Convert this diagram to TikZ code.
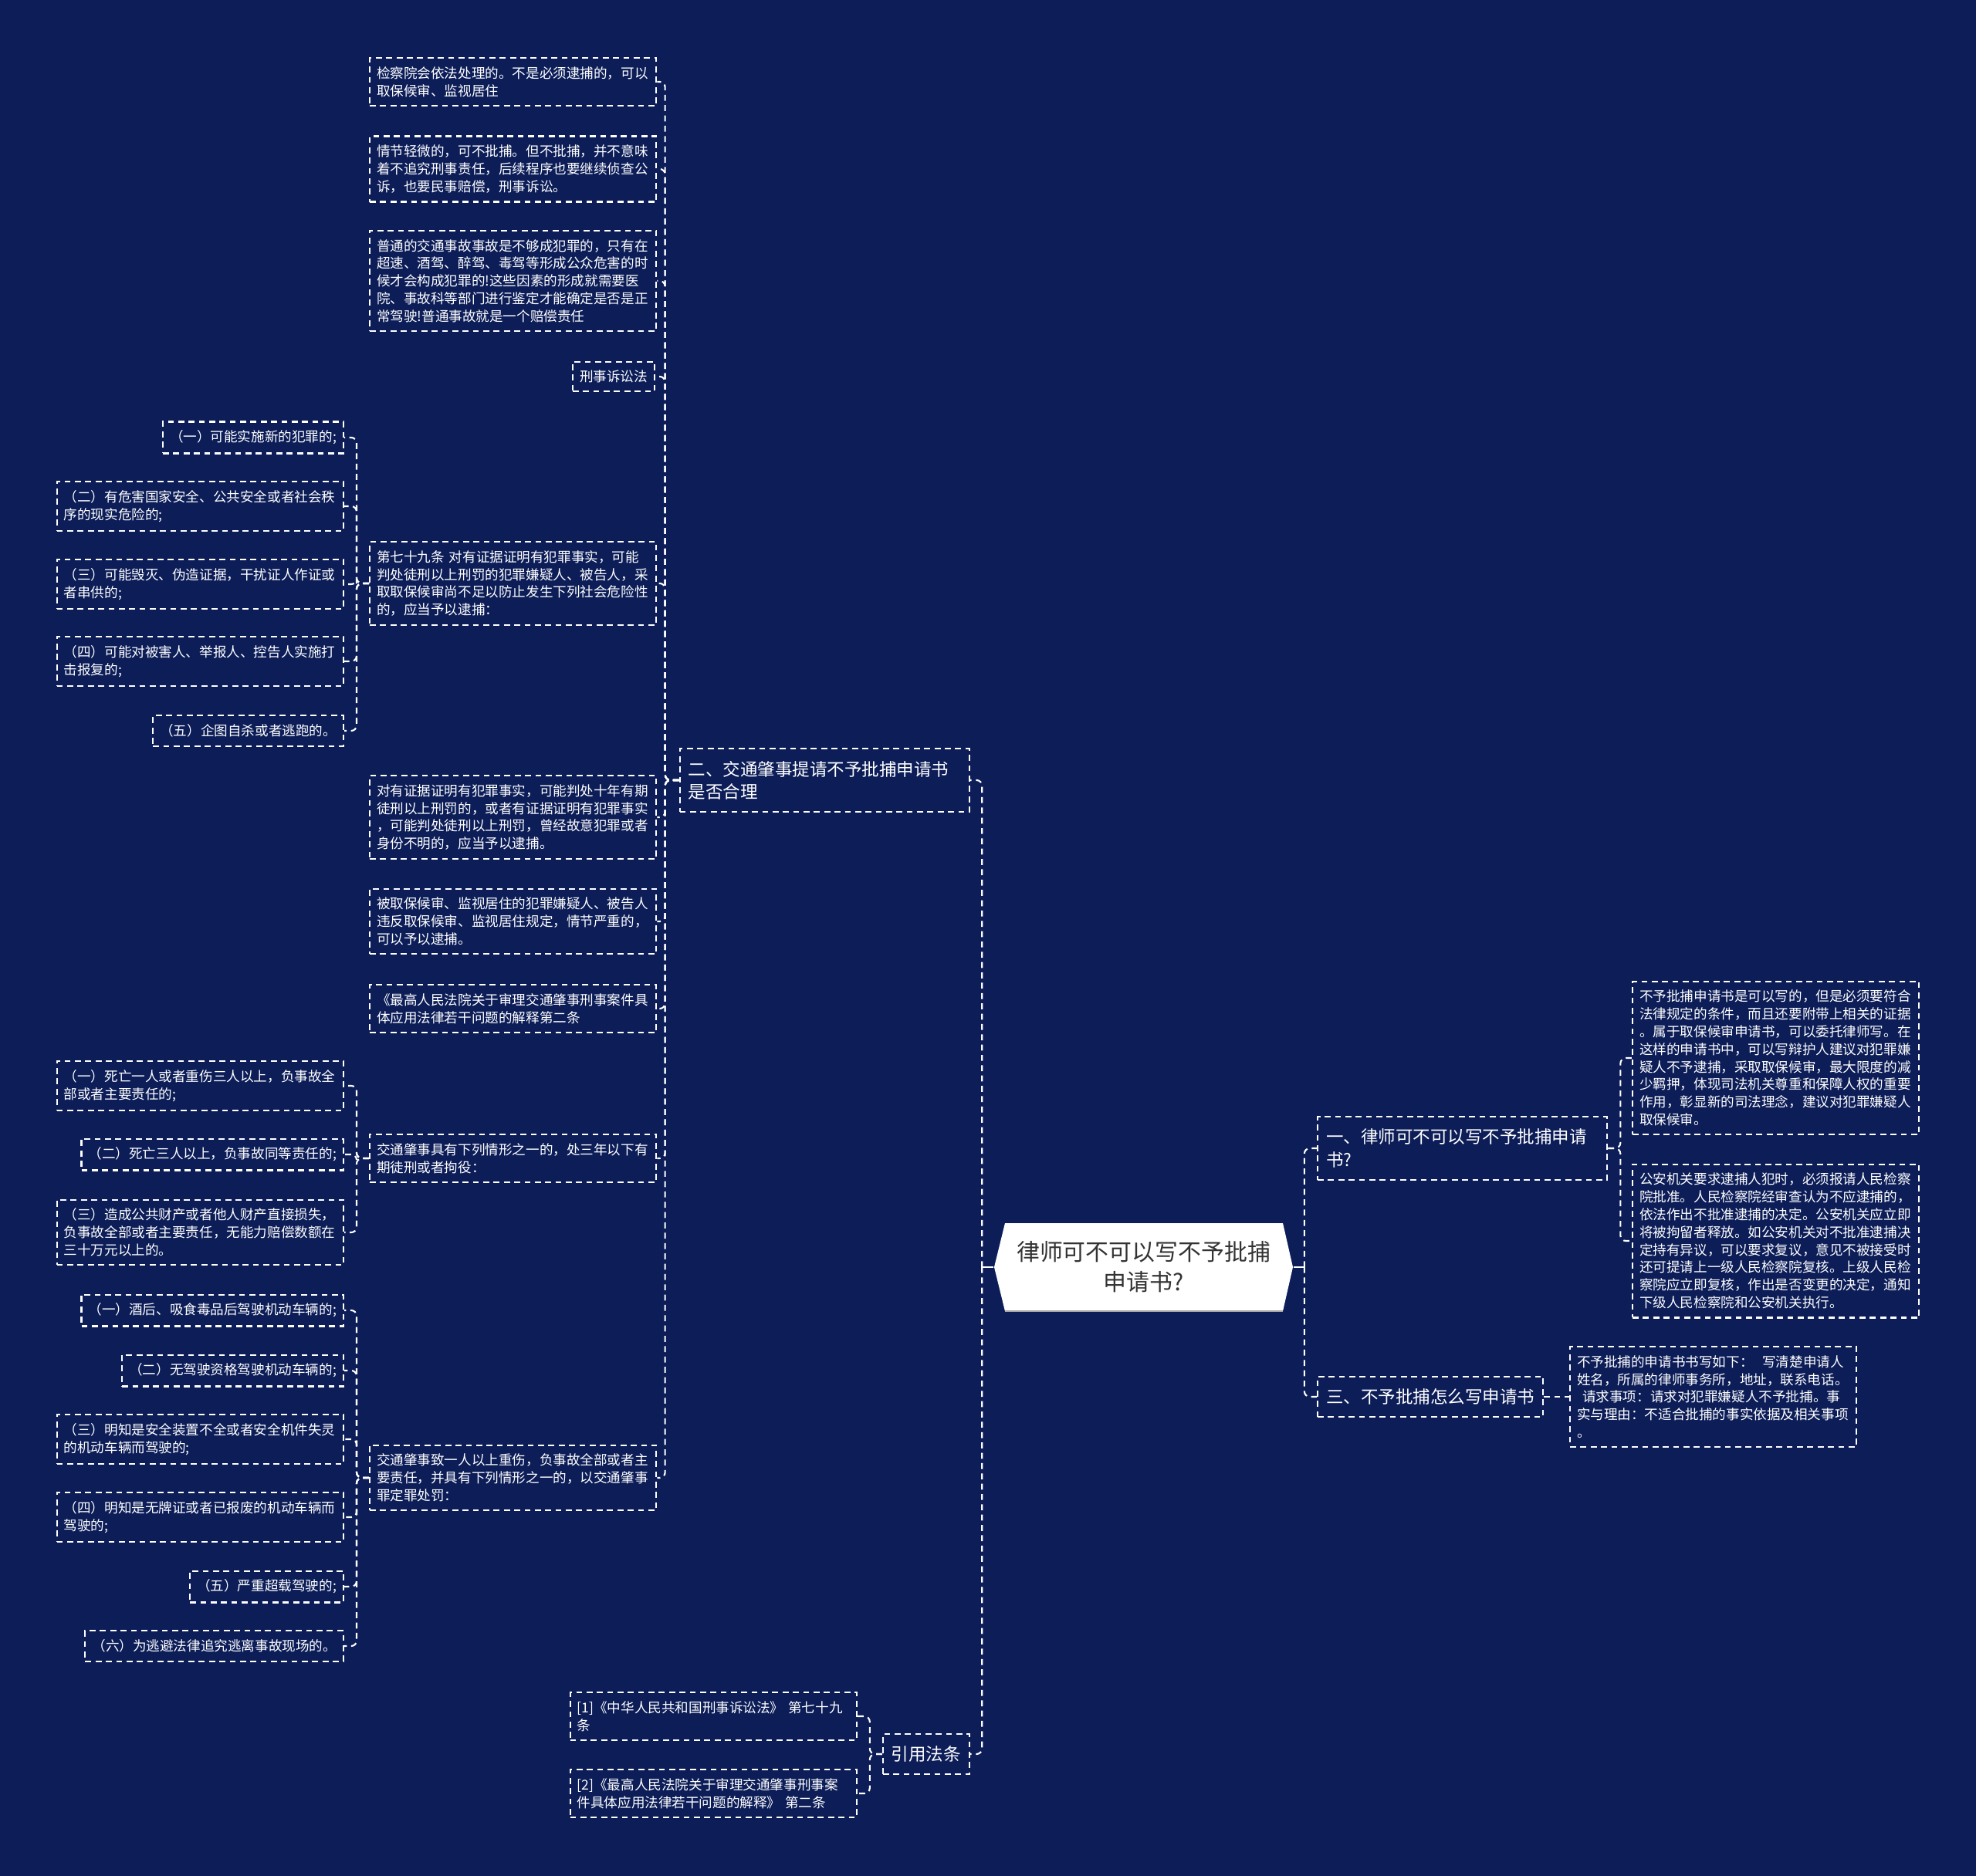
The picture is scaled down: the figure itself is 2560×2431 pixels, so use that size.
\documentclass[tikz,border=0pt]{standalone}
\usepackage{fontspec}
\setmainfont{Noto Sans CJK SC}
\definecolor{bgnavy}{HTML}{0C1D58}
\definecolor{roottext}{HTML}{333333}

\begin{document}
\begin{tikzpicture}[x=0.01cm, y=-0.01cm,
        leaf/.style={draw=white, line width=0.6pt, dash pattern=on 2.2pt off 1.6pt,
                     text=white, align=left, inner xsep=0.09cm, inner ysep=3.2pt,
                     font=\fontsize{5}{6.5}\selectfont},
        wideleaf/.style={leaf, text width=3.53cm},
        branch/.style={leaf, inner xsep=0.11cm, inner ysep=4.5pt,
                       font=\fontsize{6.4}{8.3}\selectfont},
        widebranch/.style={branch, text width=3.53cm},
        rootbox/.style={text=roottext, align=center, minimum width=3.87cm,
                        minimum height=1.14cm, font=\fontsize{8.5}{11.1}\selectfont},
        link/.style={white, line width=0.6pt, dash pattern=on 2.2pt off 1.6pt,
                     rounded corners=2pt},
        stub/.style={white, line width=0.8pt}]
      \fill[bgnavy] (0,0) rectangle (2560,2431);
      \useasboundingbox (0,0) rectangle (2560,2431);

      \fill[white] (1288,1642) -- (1302,1585) -- (1662,1585) -- (1675,1642)
                   -- (1662,1699) -- (1302,1699) -- cycle;
      \draw[gray!70, line width=0.5pt] (1302,1699) -- (1662,1699);
      \node[rootbox] (root) at (1481.5,1642) {律师可不可以写不予批捕\\申请书?};

      \node[widebranch, anchor=east] (b2)  at (1257,1011) {二、交通肇事提请不予批捕申请书\\是否合理};
      \node[branch, anchor=east]     (law) at (1257,2273) {引用法条};
      \node[widebranch, anchor=west] (r1)  at (1706,1488) {一、律师可不可以写不予批捕申请\\书?};
      \node[branch, anchor=west]     (r3)  at (1706,1810) {三、不予批捕怎么写申请书};

      \node[wideleaf, anchor=west] (c1)  at (478,106)  {检察院会依法处理的。不是必须逮捕的，可以\\取保候审、监视居住};
      \node[wideleaf, anchor=west] (c2)  at (478,219)  {情节轻微的，可不批捕。但不批捕，并不意味\\着不追究刑事责任，后续程序也要继续侦查公\\诉，也要民事赔偿，刑事诉讼。};
      \node[wideleaf, anchor=west] (c3)  at (478,364)  {普通的交通事故事故是不够成犯罪的，只有在\\超速、酒驾、醉驾、毒驾等形成公众危害的时\\候才会构成犯罪的!这些因素的形成就需要医\\院、事故科等部门进行鉴定才能确定是否是正\\常驾驶!普通事故就是一个赔偿责任};
      \node[leaf, anchor=east]     (c4)  at (849,488)  {刑事诉讼法};
      \node[wideleaf, anchor=west] (c5)  at (478,756)  {第七十九条 对有证据证明有犯罪事实，可能\\判处徒刑以上刑罚的犯罪嫌疑人、被告人，采\\取取保候审尚不足以防止发生下列社会危险性\\的，应当予以逮捕：};
      \node[wideleaf, anchor=west] (c6)  at (478,1059) {对有证据证明有犯罪事实，可能判处十年有期\\徒刑以上刑罚的，或者有证据证明有犯罪事实\\，可能判处徒刑以上刑罚，曾经故意犯罪或者\\身份不明的，应当予以逮捕。};
      \node[wideleaf, anchor=west] (c7)  at (478,1194) {被取保候审、监视居住的犯罪嫌疑人、被告人\\违反取保候审、监视居住规定，情节严重的，\\可以予以逮捕。};
      \node[wideleaf, anchor=west] (c8)  at (478,1307) {《最高人民法院关于审理交通肇事刑事案件具\\体应用法律若干问题的解释第二条};
      \node[wideleaf, anchor=west] (c9)  at (478,1501) {交通肇事具有下列情形之一的，处三年以下有\\期徒刑或者拘役：};
      \node[wideleaf, anchor=west] (c10) at (478,1915) {交通肇事致一人以上重伤，负事故全部或者主\\要责任，并具有下列情形之一的，以交通肇事\\罪定罪处罚：};

      \node[leaf, anchor=east]     (d1) at (446,567)  {（一）可能实施新的犯罪的;};
      \node[wideleaf, anchor=east] (d2) at (446,656)  {（二）有危害国家安全、公共安全或者社会秩\\序的现实危险的;};
      \node[wideleaf, anchor=east] (d3) at (446,757)  {（三）可能毁灭、伪造证据，干扰证人作证或\\者串供的;};
      \node[wideleaf, anchor=east] (d4) at (446,857)  {（四）可能对被害人、举报人、控告人实施打\\击报复的;};
      \node[leaf, anchor=east]     (d5) at (446,947)  {（五）企图自杀或者逃跑的。};

      \node[wideleaf, anchor=east] (e1) at (446,1407) {（一）死亡一人或者重伤三人以上，负事故全\\部或者主要责任的;};
      \node[leaf, anchor=east]     (e2) at (446,1496) {（二）死亡三人以上，负事故同等责任的;};
      \node[wideleaf, anchor=east] (e3) at (446,1597) {（三）造成公共财产或者他人财产直接损失，\\负事故全部或者主要责任，无能力赔偿数额在\\三十万元以上的。};

      \node[leaf, anchor=east]     (f1) at (446,1698) {（一）酒后、吸食毒品后驾驶机动车辆的;};
      \node[leaf, anchor=east]     (f2) at (446,1776) {（二）无驾驶资格驾驶机动车辆的;};
      \node[wideleaf, anchor=east] (f3) at (446,1865) {（三）明知是安全装置不全或者安全机件失灵\\的机动车辆而驾驶的;};
      \node[wideleaf, anchor=east] (f4) at (446,1966) {（四）明知是无牌证或者已报废的机动车辆而\\驾驶的;};
      \node[leaf, anchor=east]     (f5) at (446,2056) {（五）严重超载驾驶的;};
      \node[leaf, anchor=east]     (f6) at (446,2133) {（六）为逃避法律追究逃离事故现场的。};

      \node[wideleaf, anchor=east] (l1) at (1111,2224) {[1]《中华人民共和国刑事诉讼法》 第七十九\\条};
      \node[wideleaf, anchor=east] (l2) at (1111,2324) {[2]《最高人民法院关于审理交通肇事刑事案\\件具体应用法律若干问题的解释》 第二条};

      \node[wideleaf, anchor=west] (g1) at (2114,1371) {不予批捕申请书是可以写的，但是必须要符合\\法律规定的条件，而且还要附带上相关的证据\\。属于取保候审申请书，可以委托律师写。在\\这样的申请书中，可以写辩护人建议对犯罪嫌\\疑人不予逮捕，采取取保候审，最大限度的减\\少羁押，体现司法机关尊重和保障人权的重要\\作用，彰显新的司法理念，建议对犯罪嫌疑人\\取保候审。};
      \node[wideleaf, anchor=west] (g2) at (2114,1608) {公安机关要求逮捕人犯时，必须报请人民检察\\院批准。人民检察院经审查认为不应逮捕的，\\依法作出不批准逮捕的决定。公安机关应立即\\将被拘留者释放。如公安机关对不批准逮捕决\\定持有异议，可以要求复议，意见不被接受时\\还可提请上一级人民检察院复核。上级人民检\\察院应立即复核，作出是否变更的决定，通知\\下级人民检察院和公安机关执行。};
      \node[wideleaf, anchor=west] (h1) at (2033,1810) {不予批捕的申请书书写如下：\ \ 写清楚申请人\\姓名，所属的律师事务所，地址，联系电话。\\\hspace*{2pt}请求事项：请求对犯罪嫌疑人不予批捕。事\\实与理由：不适合批捕的事实依据及相关事项\\。};

      \draw[stub] (root.west) -- ++(-15,0) coordinate (ls);
      \draw[stub] (root.east) -- ++(14,0) coordinate (rs);
      \draw[link] (ls) |- (b2.east);  \draw[link] (ls) |- (law.east);
      \draw[link] (rs) |- (r1.west);  \draw[link] (rs) |- (r3.west);

      \draw[link] (b2.west) -- ++(-18,0) |- (c1.east);  \draw[link] (b2.west) -- ++(-18,0) |- (c2.east);
      \draw[link] (b2.west) -- ++(-18,0) |- (c3.east);  \draw[link] (b2.west) -- ++(-18,0) |- (c4.east);
      \draw[link] (b2.west) -- ++(-18,0) |- (c5.east);  \draw[link] (b2.west) -- ++(-18,0) |- (c6.east);
      \draw[link] (b2.west) -- ++(-18,0) |- (c7.east);  \draw[link] (b2.west) -- ++(-18,0) |- (c8.east);
      \draw[link] (b2.west) -- ++(-18,0) |- (c9.east);  \draw[link] (b2.west) -- ++(-18,0) |- (c10.east);

      \draw[link] (c5.west) -- ++(-16,0) |- (d1.east);  \draw[link] (c5.west) -- ++(-16,0) |- (d2.east);
      \draw[link] (c5.west) -- ++(-16,0) |- (d3.east);  \draw[link] (c5.west) -- ++(-16,0) |- (d4.east);
      \draw[link] (c5.west) -- ++(-16,0) |- (d5.east);

      \draw[link] (c9.west) -- ++(-16,0) |- (e1.east);  \draw[link] (c9.west) -- ++(-16,0) |- (e2.east);
      \draw[link] (c9.west) -- ++(-16,0) |- (e3.east);

      \draw[link] (c10.west) -- ++(-16,0) |- (f1.east); \draw[link] (c10.west) -- ++(-16,0) |- (f2.east);
      \draw[link] (c10.west) -- ++(-16,0) |- (f3.east); \draw[link] (c10.west) -- ++(-16,0) |- (f4.east);
      \draw[link] (c10.west) -- ++(-16,0) |- (f5.east); \draw[link] (c10.west) -- ++(-16,0) |- (f6.east);

      \draw[link] (law.west) -- ++(-16,0) |- (l1.east); \draw[link] (law.west) -- ++(-16,0) |- (l2.east);
      \draw[link] (r1.east) -- ++(16,0) |- (g1.west);   \draw[link] (r1.east) -- ++(16,0) |- (g2.west);
      \draw[link] (r3.east) -- (h1.west);
    \end{tikzpicture}
\end{document}
